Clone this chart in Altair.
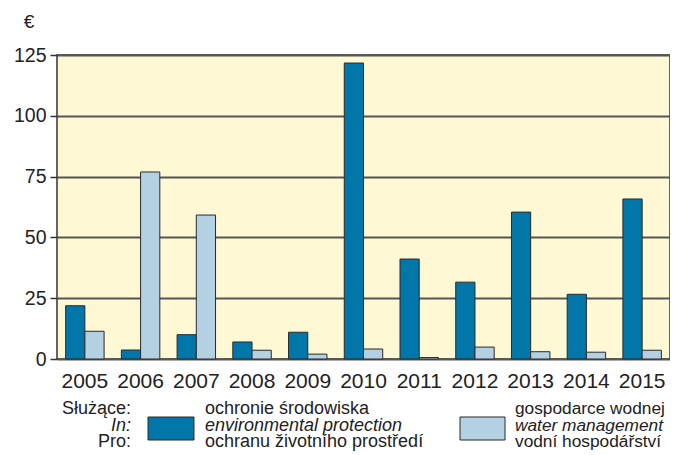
import altair as alt
import pandas as pd

years = ["2005", "2006", "2007", "2008", "2009", "2010", "2011", "2012", "2013", "2014", "2015"]
env_values = [21.9, 3.7, 10.0, 7.0, 11.0, 121.7, 41.1, 31.6, 60.4, 26.6, 65.8]
water_values = [11.4, 76.9, 59.2, 3.6, 2.0, 4.1, 0.6, 4.9, 3.0, 2.8, 3.6]
series_names = ["environmental protection", "water management"]
series_colors = ["#0077A8", "#B3D1E3"]
y_ticks = [0, 25, 50, 75, 100, 125]

legend_heading = ["Służące:", "In:", "Pro:"]
legend_env = ["ochronie środowiska", "environmental protection", "ochranu životního prostředí"]
legend_water = ["gospodarce wodnej", "water management", "vodní hospodářství"]

rows = []
for y, a, b in zip(years, env_values, water_values):
    rows.append({"year": y, "series": series_names[0], "value": a})
    rows.append({"year": y, "series": series_names[1], "value": b})
df = pd.DataFrame(rows)

FONT = "Liberation Sans"
W, H = 613, 304

bars = alt.Chart(df).mark_bar(stroke="#2a2a2a", strokeWidth=1).encode(
    x=alt.X("year:N", sort=years, title=None,
            scale=alt.Scale(paddingInner=0.31, paddingOuter=0.155),
            axis=alt.Axis(labelAngle=0, labelFontSize=21, labelColor="#222222", labelFont=FONT,
                          ticks=False, domain=False, labelPadding=11)),
    xOffset=alt.XOffset("series:N", sort=series_names, scale=alt.Scale(paddingInner=0, paddingOuter=0)),
    y=alt.Y("value:Q", title=None,
            scale=alt.Scale(domain=[0, 125], nice=False),
            axis=alt.Axis(values=y_ticks, labelFontSize=19.5, labelColor="#222222", labelFont=FONT,
                          tickSize=7, tickColor="#333333", tickWidth=1.5, labelPadding=4,
                          domain=False, grid=True, gridColor="#555555", gridWidth=2)),
    color=alt.Color("series:N", sort=series_names,
                    scale=alt.Scale(domain=series_names, range=series_colors), legend=None),
)

one = pd.DataFrame({"k": [0]})
layers = [bars]

# euro sign
layers.append(alt.Chart(one).mark_text(text="€", fontSize=19, font=FONT, color="#222222",
                                       align="center", baseline="middle").encode(
    x=alt.value(-28), y=alt.value(-33)))

# top thin line
layers.append(alt.Chart(one).mark_rule(color="#DCE8F4", strokeWidth=2).encode(
    x=alt.value(-49), x2=alt.value(610), y=alt.value(-54)))

line_y0 = 354
line_step = 16.5
for i, txt in enumerate(legend_heading):
    layers.append(alt.Chart(one).mark_text(text=txt, fontSize=18, font=FONT, color="#222222",
                                           align="right", baseline="middle",
                                           fontStyle="italic" if i == 1 else "normal").encode(
        x=alt.value(74), y=alt.value(line_y0 + i * line_step)))
for i, txt in enumerate(legend_env):
    layers.append(alt.Chart(one).mark_text(text=txt, fontSize=18, font=FONT, color="#222222",
                                           align="left", baseline="middle",
                                           fontStyle="italic" if i == 1 else "normal").encode(
        x=alt.value(148), y=alt.value(line_y0 + i * line_step)))
for i, txt in enumerate(legend_water):
    layers.append(alt.Chart(one).mark_text(text=txt, fontSize=17.3, font=FONT, color="#222222",
                                           align="left", baseline="middle",
                                           fontStyle="italic" if i == 1 else "normal").encode(
        x=alt.value(458), y=alt.value(line_y0 + i * line_step)))

# legend swatches
layers.append(alt.Chart(one).mark_rect(fill=series_colors[0], stroke="#2a2a2a", strokeWidth=1).encode(
    x=alt.value(91), x2=alt.value(137), y=alt.value(362), y2=alt.value(385)))
layers.append(alt.Chart(one).mark_rect(fill=series_colors[1], stroke="#2a2a2a", strokeWidth=1).encode(
    x=alt.value(403), x2=alt.value(448), y=alt.value(362), y2=alt.value(385)))

chart = alt.layer(*layers).properties(
    width=W, height=H,
    autosize=alt.AutoSizeParams(type="none"),
    padding={"left": 49, "top": 47, "right": 0, "bottom": 96},
    background="white",
).configure_view(fill="#FFF8D4", stroke="#333333", strokeWidth=1.5)

chart.save("out.html", embed_options={"renderer": "svg", "actions": False})
